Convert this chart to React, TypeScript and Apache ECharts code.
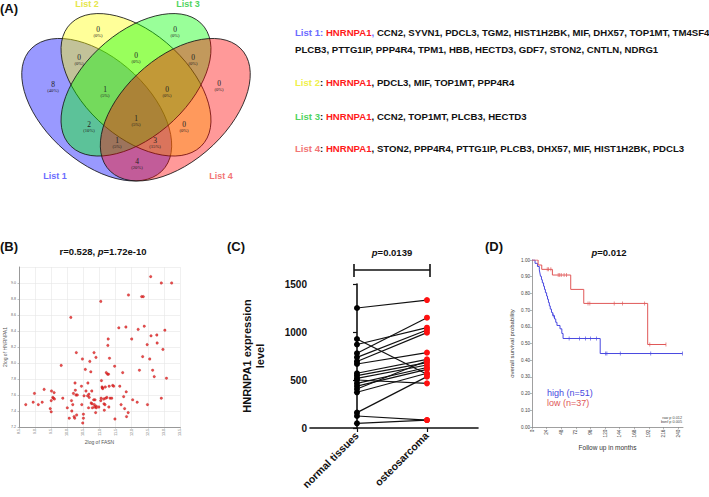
import React, { useEffect, useRef } from 'react';
import * as echarts from 'echarts';

// ---------- DATA ----------
const vennSetNames = ['List 1', 'List 2', 'List 3', 'List 4'];
const vennRegionKeys = ['1', '2', '3', '4', '12', '23', '34', '123', '234', '13', '1234', '24', '134', '124', '14'];
const vennRegionCounts = [8, 0, 0, 0, 0, 0, 0, 1, 0, 2, 1, 0, 1, 3, 4];

const list1Genes = ['HNRNPA1', 'CCN2', 'SYVN1', 'PDCL3', 'TGM2', 'HIST1H2BK', 'MIF', 'DHX57', 'TOP1MT', 'TM4SF4', 'PLCB3', 'PTTG1IP', 'PPP4R4', 'TPM1', 'HBB', 'HECTD3', 'GDF7', 'STON2', 'CNTLN', 'NDRG1'];
const list2Genes = ['HNRNPA1', 'PDCL3', 'MIF', 'TOP1MT', 'PPP4R4'];
const list3Genes = ['HNRNPA1', 'CCN2', 'TOP1MT', 'PLCB3', 'HECTD3'];
const list4Genes = ['HNRNPA1', 'STON2', 'PPP4R4', 'PTTG1IP', 'PLCB3', 'DHX57', 'MIF', 'HIST1H2BK', 'PDCL3'];

// (B) scatter: 2log FASN vs 2log HNRNPA1
const fasnValues = [8.71, 8.94, 8.98, 9.10, 9.22, 9.28, 9.47, 9.50, 9.51, 9.50, 9.55, 9.57, 9.59, 9.60, 9.81, 9.86, 10.00, 10.06, 10.11, 10.13, 10.14, 10.17, 10.19, 10.21, 10.23, 10.24, 10.25, 10.27, 10.28, 10.29, 10.31, 10.44, 10.45, 10.47, 10.48, 10.50, 10.50, 10.52, 10.56, 10.58, 10.63, 10.64, 10.66, 10.67, 10.68, 10.70, 10.73, 10.74, 10.76, 10.77, 10.78, 10.82, 10.83, 10.84, 10.85, 10.86, 10.88, 10.89, 10.90, 10.90, 10.98, 11.04, 11.05, 11.06, 11.08, 11.09, 11.10, 11.13, 11.14, 11.15, 11.17, 11.18, 11.19, 11.21, 11.23, 11.25, 11.26, 11.27, 11.28, 11.29, 11.30, 11.31, 11.33, 11.38, 11.41, 11.44, 11.47, 11.48, 11.60, 11.63, 11.67, 11.72, 11.75, 11.78, 11.82, 11.83, 11.84, 11.89, 12.00, 12.03, 12.17, 12.20, 12.24, 12.34, 12.39, 12.48, 12.49, 12.56, 12.60, 12.65, 12.70, 12.78, 12.79, 12.92, 12.97, 13.03, 13.08, 11.04, 11.90, 12.31, 12.36, 12.59, 12.92, 13.24];
const hnrnpa1Values = [7.48, 7.51, 7.62, 7.48, 7.51, 7.67, 7.43, 7.39, 7.65, 7.53, 7.57, 7.56, 7.63, 7.55, 7.97, 7.56, 7.44, 7.31, 8.57, 7.53, 7.40, 7.48, 7.62, 7.33, 7.31, 7.75, 7.66, 7.60, 8.13, 7.35, 7.60, 7.71, 7.48, 8.05, 7.25, 7.36, 7.31, 7.59, 7.92, 7.65, 7.59, 7.75, 7.44, 7.61, 7.57, 8.02, 7.89, 7.50, 7.65, 7.49, 7.44, 7.54, 8.13, 7.48, 7.45, 7.54, 7.38, 8.07, 7.46, 7.44, 7.45, 7.53, 7.56, 7.78, 7.70, 7.69, 7.68, 7.55, 7.49, 7.41, 7.48, 7.70, 7.56, 7.88, 7.57, 7.86, 8.22, 8.30, 7.86, 7.45, 7.71, 8.06, 7.56, 7.56, 7.72, 7.71, 7.96, 7.30, 8.44, 7.71, 7.48, 7.88, 7.58, 7.43, 8.45, 7.64, 7.33, 7.38, 8.30, 7.54, 7.51, 8.42, 7.91, 8.08, 8.46, 8.23, 7.48, 8.05, 8.34, 7.91, 7.83, 8.35, 8.25, 7.56, 8.17, 8.41, 7.81, 8.77, 8.85, 8.83, 8.83, 9.08, 9.00, 9.00];
const scatterXTicks = ['8.5', '9.0', '9.5', '10.0', '10.5', '11.0', '11.5', '12.0', '12.5', '13.0', '13.5'];

// (C) paired expression
const pairGroups = ['normal tissues', 'osteosarcoma'];
const normalValues = [1250, 927, 870, 778, 736, 693, 667, 570, 545, 517, 500, 465, 437, 406, 372, 160, 125, 49];
const tumorValues = [1333, 560, 1045, 1149, 1021, 993, 785, 715, 681, 656, 465, 630, 611, 700, 570, 535, 83, 83];

// (D) Kaplan-Meier
const highTimes = [0, 5, 9, 12, 13, 14, 15.5, 17, 19, 20.5, 22, 24, 25.5, 27, 28.5, 30, 32, 34, 37, 39, 41, 46, 49, 51, 112, 247];
const highSurv = [1, 0.98, 0.961, 0.941, 0.922, 0.902, 0.882, 0.863, 0.843, 0.824, 0.804, 0.784, 0.765, 0.745, 0.725, 0.706, 0.686, 0.667, 0.647, 0.627, 0.608, 0.588, 0.56, 0.53, 0.44, 0.44];
const highCensor = [35, 61, 78, 88, 96, 106, 121, 123, 145, 195, 247];
const lowTimes = [0, 10, 16, 33.5, 63.6, 85, 190, 220];
const lowSurv = [1, 0.97, 0.944, 0.91, 0.824, 0.74, 0.494, 0.494];
const lowCensor = [25, 27, 31, 43, 45.5, 48, 52.7, 56.5, 92, 95, 135, 148.5, 185, 193.5, 220];
const kmXTicks = [0, 24, 48, 72, 96, 120, 144, 168, 192, 216, 240];

// ---------- STYLE / LAYOUT ----------
const W = 709, H = 497;
const SANS = '"Liberation Sans", Arial, sans-serif';
const SERIF = '"Liberation Serif", "Times New Roman", serif';
const setFills = ['rgba(0,0,255,0.4)', 'rgba(255,255,0,0.4)', 'rgba(0,255,0,0.4)', 'rgba(255,0,0,0.4)'];
const setLabelColors = ['#6b6bff', '#e6e64a', '#4fd45f', '#f27575'];
const vennCenters = [[-37.35, 109.7], [0, 84.8], [0, 84.8], [37.35, 109.7]];
const vennRot = [-Math.PI / 4, -Math.PI / 4, Math.PI / 4, Math.PI / 4];
const vennRegionPos = [[53, 87], [98, 32], [175, 32], [219, 86], [79, 60], [136, 58], [193, 60], [105, 92], [167, 92], [89, 127], [136, 121], [184, 127], [117, 143], [155, 143], [137, 164]];
const setLabelPos = [[55, 176], [87, 4], [188, 4], [221, 176]];
const BLUE = '#4848e0';
const RED = '#e05858';

function survAt(times: number[], surv: number[], t: number) {
  let s = surv[0];
  for (let i = 0; i < times.length; i++) if (times[i] <= t) s = surv[i];
  return s;
}

function buildOption(): any {
  const total = vennRegionCounts.reduce((a, b) => a + b, 0);

  const graphic: any[] = [];
  // panel labels
  [['(A)', 0, 8], ['(B)', 0, 246], ['(C)', 227, 246], ['(D)', 485, 246]].forEach(([t, x, y]) => {
    graphic.push({ type: 'text', x, y, style: { text: t, font: `bold 13px ${SANS}`, fill: '#111', verticalAlign: 'middle' } });
  });

  // venn ellipses
  graphic.push({
    type: 'group', x: 136, y: 0, scaleX: 1.052, scaleY: 1,
    children: vennSetNames.map((_, i) => ({
      type: 'ellipse', x: vennCenters[i][0], y: vennCenters[i][1], rotation: vennRot[i],
      shape: { cx: 0, cy: 0, rx: 87.2, ry: 50.5 },
      style: { fill: setFills[i], stroke: '#1a1a1a', lineWidth: 0.8 },
    })),
  });
  vennRegionKeys.forEach((k, i) => {
    const c = vennRegionCounts[i];
    const pct = Math.round((c / total) * 100);
    graphic.push({
      type: 'text', x: vennRegionPos[i][0], y: vennRegionPos[i][1],
      style: {
        text: `{n|${c}}\n{p|(${pct}%)}`, align: 'center', verticalAlign: 'middle',
        rich: {
          n: { fontFamily: SERIF, fontSize: 7.5, fill: '#222', lineHeight: 7, align: 'center' },
          p: { fontFamily: SERIF, fontSize: 4.6, fill: '#222', lineHeight: 5, align: 'center' },
        },
      },
    });
  });
  vennSetNames.forEach((n, i) => {
    graphic.push({ type: 'text', x: setLabelPos[i][0], y: setLabelPos[i][1], style: { text: n, font: `bold 9px ${SANS}`, fill: setLabelColors[i], align: 'center', verticalAlign: 'middle' } });
  });

  // gene lists
  const rich = {
    l1: { fill: '#6b6bff', fontWeight: 'bold', fontSize: 9.6, fontFamily: SANS },
    l2: { fill: '#f0f04a', fontWeight: 'bold', fontSize: 9.6, fontFamily: SANS },
    l3: { fill: '#4fd45f', fontWeight: 'bold', fontSize: 9.6, fontFamily: SANS },
    l4: { fill: '#f27575', fontWeight: 'bold', fontSize: 9.6, fontFamily: SANS },
    hn: { fill: '#ff1a1a', fontWeight: 'bold', fontSize: 9.6, fontFamily: SANS },
    g: { fill: '#111', fontWeight: 'bold', fontSize: 9.6, fontFamily: SANS },
  };
  const rows: [string, number][] = [
    [`{l1|List 1: }{hn|${list1Genes[0]}}{l1|,}{g| ${list1Genes.slice(1, 10).join(', ')}}`, 32],
    [`{g|${list1Genes.slice(10).join(', ')}}`, 49],
    [`{l2|List 2}{g|: }{hn|${list2Genes[0]}}{g|, ${list2Genes.slice(1).join(', ')}}`, 82],
    [`{l3|List 3}{g|: }{hn|${list3Genes[0]}}{g|, ${list3Genes.slice(1).join(', ')}}`, 116],
    [`{l4|List 4}{g|: }{hn|${list4Genes[0]}}{g|, ${list4Genes.slice(1).join(', ')}}`, 148],
  ];
  rows.forEach(([t, y]) => {
    graphic.push({ type: 'text', x: 295, y, style: { text: t, rich, verticalAlign: 'middle' } });
  });

  // titles
  const titleRich = {
    b: { fontWeight: 'bold', fontSize: 9.5, fontFamily: SANS, fill: '#111' },
    i: { fontWeight: 'bold', fontStyle: 'italic', fontSize: 9.5, fontFamily: SANS, fill: '#111' },
  };
  graphic.push({ type: 'text', x: 103, y: 251, style: { text: '{b|r=0.528, }{i|p}{b|=1.72e-10}', rich: titleRich, align: 'center', verticalAlign: 'middle' } });
  graphic.push({ type: 'text', x: 392, y: 252, style: { text: '{i|p}{b|=0.0139}', rich: titleRich, align: 'center', verticalAlign: 'middle' } });
  graphic.push({ type: 'text', x: 609, y: 252, style: { text: '{i|p}{b|=0.012}', rich: titleRich, align: 'center', verticalAlign: 'middle' } });

  // bracket (C)
  const bl = { stroke: '#111', lineWidth: 1.6 };
  graphic.push({ type: 'line', shape: { x1: 354, y1: 270, x2: 430, y2: 270 }, style: bl });
  graphic.push({ type: 'line', shape: { x1: 354, y1: 264, x2: 354, y2: 277 }, style: bl });
  graphic.push({ type: 'line', shape: { x1: 430, y1: 264, x2: 430, y2: 277 }, style: bl });

  // KM legend
  graphic.push({ type: 'text', x: 547, y: 393, style: { text: 'high (n=51)', font: `9px ${SANS}`, fill: BLUE, verticalAlign: 'middle' } });
  graphic.push({ type: 'text', x: 547, y: 402.5, style: { text: 'low (n=37)', font: `9px ${SANS}`, fill: RED, verticalAlign: 'middle' } });
  graphic.push({ type: 'text', x: 682, y: 417.5, style: { text: 'raw p 0.012', font: `3.8px ${SANS}`, fill: '#444', align: 'right', verticalAlign: 'middle' } });
  graphic.push({ type: 'text', x: 682, y: 422, style: { text: 'bonf p 0.005', font: `3.8px ${SANS}`, fill: '#444', align: 'right', verticalAlign: 'middle' } });

  // series
  const series: any[] = [];
  series.push({
    type: 'scatter', xAxisIndex: 0, yAxisIndex: 0, symbolSize: 2.6,
    itemStyle: { color: '#e32020', borderColor: '#a01010', borderWidth: 0.3 },
    data: fasnValues.map((x, i) => [x, hnrnpa1Values[i]]),
  });
  normalValues.forEach((n, i) => {
    series.push({
      type: 'line', xAxisIndex: 1, yAxisIndex: 1, symbol: 'circle', symbolSize: 6, showSymbol: true,
      lineStyle: { color: '#111', width: 1.2 },
      data: [
        { value: [0, n], itemStyle: { color: '#000' } },
        { value: [1, tumorValues[i]], itemStyle: { color: '#ff1010' } },
      ],
      z: 3,
    });
  });
  series.push({
    type: 'line', xAxisIndex: 2, yAxisIndex: 2, step: 'end', showSymbol: false,
    lineStyle: { color: BLUE, width: 1 }, data: highTimes.map((t, i) => [t, highSurv[i]]),
  });
  series.push({
    type: 'line', xAxisIndex: 2, yAxisIndex: 2, step: 'end', showSymbol: false,
    lineStyle: { color: RED, width: 1 }, data: lowTimes.map((t, i) => [t, lowSurv[i]]),
  });
  series.push({
    type: 'scatter', xAxisIndex: 2, yAxisIndex: 2, symbol: 'rect', symbolSize: [0.8, 4],
    itemStyle: { color: BLUE }, data: highCensor.map((t) => [t, survAt(highTimes, highSurv, t)]),
  });
  series.push({
    type: 'scatter', xAxisIndex: 2, yAxisIndex: 2, symbol: 'rect', symbolSize: [0.8, 4],
    itemStyle: { color: RED }, data: lowCensor.map((t) => [t, survAt(lowTimes, lowSurv, t)]),
  });

  const grid = [
    { left: 19, top: 267, width: 161, height: 160, outerBoundsMode: 'none', containLabel: false },
    { left: 310, top: 284, width: 168, height: 144, outerBoundsMode: 'none', containLabel: false },
    { left: 532, top: 260, width: 151, height: 167, outerBoundsMode: 'none', containLabel: false },
  ];

  const xAxis = [
    {
      type: 'value', gridIndex: 0, min: 8.5, max: 13.5, interval: 0.5,
      axisLine: { show: true, lineStyle: { color: '#999', width: 1 } },
      axisTick: { show: true, length: 1.5, lineStyle: { color: '#999', width: 0.6 } },
      axisLabel: { fontSize: 3.6, rotate: 90, color: '#666', margin: 2, formatter: (v: number) => scatterXTicks[Math.round((v - 8.5) / 0.5)] ?? '' },
      splitLine: { show: true, lineStyle: { color: '#e6e6e6', width: 0.6 } },
      name: '2log of FASN', nameLocation: 'middle', nameGap: 12,
      nameTextStyle: { fontSize: 5, color: '#555', fontFamily: SANS },
    },
    {
      type: 'value', gridIndex: 1, min: -0.671, max: 1.729,
      axisLine: { show: true, lineStyle: { color: '#111', width: 1.6 } },
      axisTick: { show: true, length: 4, customValues: [0, 1], lineStyle: { color: '#111', width: 1.2 } },
      axisLabel: {
        customValues: [0, 1], rotate: 45, fontSize: 10.5, fontWeight: 'bold', color: '#111', fontFamily: SANS, margin: 6,
        formatter: (v: number) => pairGroups[Math.round(v)] ?? '',
      },
      splitLine: { show: false },
    },
    {
      type: 'value', gridIndex: 2, min: 0, max: 248,
      axisLine: { show: true, lineStyle: { color: '#888', width: 0.8 } },
      axisTick: { show: true, length: 2, customValues: kmXTicks, lineStyle: { color: '#888', width: 0.6 } },
      axisLabel: { customValues: kmXTicks, rotate: 90, fontSize: 4.8, color: '#444', margin: 2.5, fontFamily: SANS },
      splitLine: { show: false },
      name: 'Follow up in months', nameLocation: 'middle', nameGap: 17,
      nameTextStyle: { fontSize: 6.5, color: '#333', fontFamily: SANS },
    },
  ];

  const yAxis = [
    {
      type: 'value', gridIndex: 0, min: 7.2, max: 9.2, interval: 0.2,
      axisLine: { show: true, lineStyle: { color: '#999', width: 1 } },
      axisTick: { show: true, length: 1.5, lineStyle: { color: '#999', width: 0.6 } },
      axisLabel: { fontSize: 3.6, color: '#666', margin: 3, showMaxLabel: false, formatter: (v: number) => v.toFixed(1) },
      splitLine: { show: true, lineStyle: { color: '#e6e6e6', width: 0.6 } },
      name: '2log of HNRNPA1', nameLocation: 'middle', nameGap: 11,
      nameTextStyle: { fontSize: 5, color: '#555', fontFamily: SANS },
    },
    {
      type: 'value', gridIndex: 1, min: 0, max: 1500, interval: 500,
      axisLine: { show: true, lineStyle: { color: '#111', width: 1.6 } },
      axisTick: { show: true, length: 4, lineStyle: { color: '#111', width: 1.2 } },
      axisLabel: { fontSize: 10, fontWeight: 'bold', color: '#111', fontFamily: SANS, margin: 3, formatter: (v: number) => String(v) },
      splitLine: { show: false },
      name: 'HNRNPA1 expression\nlevel', nameLocation: 'middle', nameGap: 44,
      nameTextStyle: { fontSize: 11, fontWeight: 'bold', color: '#111', fontFamily: SANS, lineHeight: 13 },
    },
    {
      type: 'value', gridIndex: 2, min: 0, max: 1, interval: 0.1,
      axisLine: { show: true, lineStyle: { color: '#888', width: 0.8 } },
      axisTick: { show: true, length: 2, lineStyle: { color: '#888', width: 0.6 } },
      axisLabel: { fontSize: 4.6, color: '#444', margin: 2, fontFamily: SANS, formatter: (v: number) => v.toFixed(2) },
      splitLine: { show: false },
      name: 'overall survival probability', nameLocation: 'middle', nameGap: 17,
      nameTextStyle: { fontSize: 6, color: '#333', fontFamily: SANS },
    },
  ];

  return {
    animation: false,
    backgroundColor: '#fff',
    textStyle: { fontFamily: SANS },
    grid, xAxis, yAxis, series, graphic,
  };
}

export default function App() {
  const ref = useRef<HTMLDivElement>(null);
  useEffect(() => {
    const chart = echarts.init(ref.current!, null, { renderer: 'svg', width: W, height: H });
    chart.setOption(buildOption());
    return () => chart.dispose();
  }, []);
  return <div ref={ref} style={{ position: 'absolute', left: 0, top: 0, width: W, height: H }} />;
}
